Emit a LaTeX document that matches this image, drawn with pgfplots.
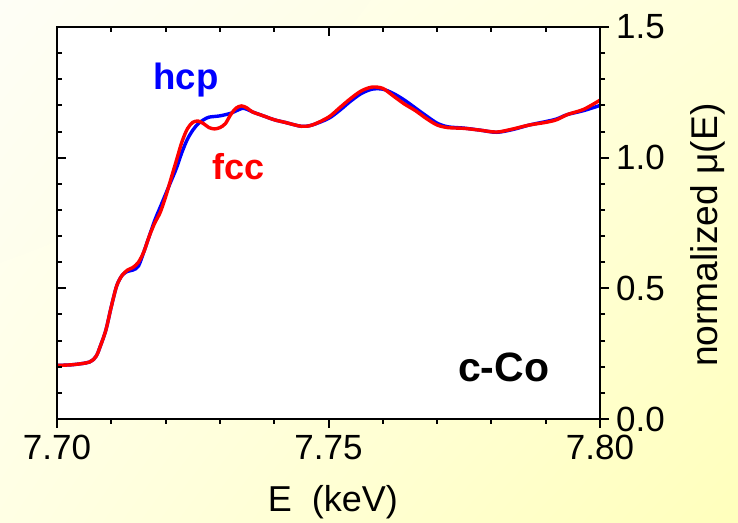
\documentclass[border=0pt]{standalone}
\usepackage{pgfplots}
\pgfplotsset{compat=1.18}
\usepackage{pgfplotstable}
\usetikzlibrary{shadings}
\usepackage{fontspec}
\setmainfont{Liberation Sans}

\pgfplotstableread{
E mu
7.7000 0.205
7.7030 0.208
7.7060 0.218
7.7072 0.240
7.7080 0.280
7.7090 0.340
7.7100 0.430
7.7110 0.510
7.7120 0.550
7.7130 0.570
7.7140 0.580
7.7150 0.600
7.7160 0.640
7.7170 0.700
7.7180 0.750
7.7190 0.790
7.7200 0.850
7.7210 0.920
7.7220 0.990
7.7230 1.060
7.7240 1.110
7.7250 1.135
7.7260 1.140
7.7270 1.130
7.7280 1.115
7.7290 1.110
7.7300 1.115
7.7310 1.130
7.7320 1.165
7.7330 1.190
7.7340 1.198
7.7350 1.190
7.7360 1.175
7.7380 1.160
7.7400 1.145
7.7420 1.135
7.7450 1.120
7.7470 1.125
7.7500 1.155
7.7520 1.190
7.7540 1.225
7.7560 1.255
7.7580 1.270
7.7600 1.265
7.7620 1.235
7.7640 1.205
7.7660 1.180
7.7680 1.150
7.7700 1.125
7.7720 1.115
7.7750 1.112
7.7780 1.105
7.7810 1.098
7.7840 1.110
7.7870 1.125
7.7900 1.135
7.7920 1.145
7.7940 1.165
7.7970 1.185
7.8000 1.220
}\fcc

\pgfplotstableread{
E mu
7.7000 0.205
7.7030 0.208
7.7060 0.218
7.7072 0.240
7.7080 0.280
7.7090 0.340
7.7100 0.430
7.7110 0.510
7.7120 0.550
7.7130 0.565
7.7140 0.570
7.7150 0.585
7.7160 0.640
7.7170 0.700
7.7180 0.760
7.7190 0.810
7.7200 0.860
7.7210 0.910
7.7220 0.960
7.7230 1.020
7.7240 1.070
7.7250 1.105
7.7260 1.130
7.7270 1.145
7.7280 1.155
7.7300 1.160
7.7320 1.170
7.7340 1.188
7.7350 1.185
7.7360 1.175
7.7380 1.160
7.7400 1.145
7.7420 1.135
7.7450 1.120
7.7470 1.125
7.7500 1.150
7.7520 1.180
7.7540 1.215
7.7560 1.245
7.7580 1.262
7.7600 1.262
7.7620 1.245
7.7640 1.220
7.7660 1.190
7.7680 1.160
7.7700 1.132
7.7720 1.118
7.7750 1.113
7.7780 1.105
7.7810 1.097
7.7840 1.108
7.7870 1.125
7.7900 1.138
7.7920 1.148
7.7940 1.165
7.7970 1.180
7.8000 1.200
}\hcp

\definecolor{bgUL}{RGB}{254,254,246}
\definecolor{bgUR}{RGB}{255,255,218}
\definecolor{bgLL}{RGB}{255,255,228}
\definecolor{bgLR}{RGB}{255,255,188}
\definecolor{cblue}{RGB}{0,0,255}
\definecolor{cred}{RGB}{255,0,0}

\begin{document}
\begin{tikzpicture}[x=1pt,y=1pt]
\shade[upper left=bgUL, upper right=bgUR, lower left=bgLL, lower right=bgLR] (0,0) rectangle (369,261.5);
\pgfplotsset{
  commonax/.style={
    at={(28.5pt,52pt)}, anchor=south west,
    scale only axis, width=271.5pt, height=196pt,
    xmin=7.70, xmax=7.80, ymin=0, ymax=1.5,
    xtick={7.70,7.75,7.80}, ytick={0,0.5,1.0,1.5},
    minor xtick={7.71,7.72,7.73,7.74,7.76,7.77,7.78,7.79},
    minor ytick={0.1,0.2,0.3,0.4,0.6,0.7,0.8,0.9,1.1,1.2,1.3,1.4},
    major tick length=4.5pt, minor tick length=2.5pt,
    tick style={black, line width=1pt},
    axis line style={line width=1.2pt},
  }
}
\begin{axis}[commonax,
  axis background/.style={fill=white},
  tick align=outside,
  xtick pos=bottom, ytick pos=right,
  font=\fontsize{17.5}{20}\selectfont,
  /pgf/number format/assume math mode=true,
  xticklabel style={/pgf/number format/.cd, fixed, fixed zerofill, precision=2},
  yticklabel style={/pgf/number format/.cd, fixed, fixed zerofill, precision=1},
  xlabel={E\ \ (keV)},
  xlabel style={at={(axis description cs:0.508,-0.237)}, anchor=base, font=\fontsize{18}{20}\selectfont},
  ylabel={normalized μ(E)},
  ylabel style={at={(axis description cs:1.199,0.469)}, anchor=center, rotate=0, font=\fontsize{18.6}{20}\selectfont},
  clip=true,
]
\addplot[cblue, line width=1.7pt, smooth] table[x=E,y=mu] {\hcp};
\addplot[cred, line width=1.7pt, smooth] table[x=E,y=mu] {\fcc};
\node[anchor=base west, text=cblue, font=\fontsize{18.3}{20}\selectfont\bfseries, inner sep=0pt] at (axis cs:7.7177,1.259) {hcp};
\node[anchor=base west, text=cred, font=\fontsize{18}{20}\selectfont\bfseries, inner sep=0pt] at (axis cs:7.7285,0.915) {fcc};
\node[anchor=base west, text=black, font=\fontsize{20.5}{22}\selectfont\bfseries, inner sep=0pt] at (axis cs:7.7738,0.142) {c-Co};
\end{axis}
\begin{axis}[commonax,
  tick align=inside,
  xtick pos=top, ytick pos=left,
  xticklabels={}, yticklabels={},
]
\end{axis}
\pgfresetboundingbox
\useasboundingbox (0,0) rectangle (369,261.5);
\end{tikzpicture}
\end{document}
